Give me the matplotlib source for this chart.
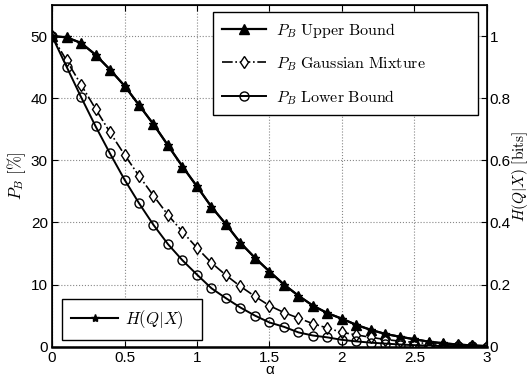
import numpy as np
import matplotlib
matplotlib.use("Agg")
import matplotlib.pyplot as plt

plt.rcParams['font.family'] = ['Liberation Sans', 'DejaVu Sans']
plt.rcParams['mathtext.fontset'] = 'cm'

alpha = [0.0, 0.1, 0.2, 0.3, 0.4, 0.5, 0.6, 0.7, 0.8, 0.9, 1.0,
         1.1, 1.2, 1.3, 1.4, 1.5, 1.6, 1.7, 1.8, 1.9, 2.0,
         2.1, 2.2, 2.3, 2.4, 2.5, 2.6, 2.7, 2.8, 2.9, 3.0]

# P_B upper bound [%]
pb_upper = [50.0, 49.8, 48.9, 47.0, 44.6, 42.0, 38.9, 35.8, 32.4, 29.0, 25.8,
            22.5, 19.7, 16.7, 14.3, 12.1, 10.0, 8.2, 6.6, 5.4, 4.5,
            3.5, 2.7, 2.05, 1.6, 1.2, 0.8, 0.55, 0.35, 0.2, 0.1]
# P_B gaussian mixture [%]
pb_gm = [50.0, 46.1, 42.2, 38.3, 34.5, 30.9, 27.5, 24.3, 21.2, 18.5, 15.9,
         13.5, 11.5, 9.7, 8.1, 6.6, 5.5, 4.6, 3.7, 3.0, 2.3,
         1.9, 1.5, 1.15, 0.9, 0.7, 0.5, 0.35, 0.25, 0.15, 0.1]
# P_B lower bound [%]
pb_lower = [50.0, 45.1, 40.2, 35.5, 31.1, 26.9, 23.1, 19.6, 16.5, 13.9, 11.6,
            9.4, 7.8, 6.3, 5.0, 3.9, 3.2, 2.3, 1.8, 1.5, 1.1,
            0.85, 0.65, 0.5, 0.35, 0.25, 0.18, 0.12, 0.08, 0.05, 0.03]
# H(Q|X) [bits]
h_qx = [1.0, 0.996, 0.978, 0.94, 0.892, 0.84, 0.778, 0.716, 0.648, 0.58, 0.516,
        0.45, 0.394, 0.334, 0.286, 0.242, 0.2, 0.164, 0.132, 0.108, 0.09,
        0.07, 0.054, 0.041, 0.032, 0.024, 0.016, 0.011, 0.007, 0.004, 0.002]

fig = plt.figure(figsize=(5.29, 3.86), dpi=100)
ax = fig.add_axes([0.0983, 0.1018, 0.8223, 0.8852])
ax2 = ax.twinx()

# H(Q|X) on the right axis (sits under the upper bound curve)
lh, = ax2.plot(alpha, h_qx, '-', color='k', lw=1.5, marker='*', ms=6)

l1, = ax.plot(alpha, pb_upper, '-', color='k', lw=1.6, marker='^',
              ms=7.5, mfc='k', zorder=3)
l2, = ax.plot(alpha, pb_gm, '-.', color='k', lw=1.2, marker='d',
              ms=6.5, mfc='white', zorder=3)
l3, = ax.plot(alpha, pb_lower, '-', color='k', lw=1.4, marker='o',
              ms=6.5, mfc='none', zorder=3)

ax.set_xlim(0, 3)
ax.set_ylim(0, 55)
ax2.set_ylim(0, 1.1)
ax.set_xticks([0, 0.5, 1, 1.5, 2, 2.5, 3])
ax.set_xticklabels(['0', '0.5', '1', '1.5', '2', '2.5', '3'])
ax.set_yticks([0, 10, 20, 30, 40, 50])
ax2.set_yticks([0, 0.2, 0.4, 0.6, 0.8, 1])
ax2.set_yticklabels(['0', '0.2', '0.4', '0.6', '0.8', '1'])

ax.grid(True, linestyle=':', color='#888888', lw=0.8)
ax.tick_params(direction='in', top=True, labelsize=11, length=4, pad=3)
ax2.tick_params(direction='in', labelsize=11, length=4, pad=2)
for sp in ax.spines.values():
    sp.set_linewidth(1.2)
ax.spines['bottom'].set_linewidth(1.8)

ax.set_xlabel('α', fontsize=11, labelpad=-1)
ax.set_ylabel(r'$P_B\ [\%]$', fontsize=12, labelpad=2)
ax2.set_ylabel(r'$H(Q|X)\ [\mathrm{bits}]$', fontsize=11)
ax2.yaxis.set_label_coords(1.054, 0.5)

leg1 = ax2.legend([l1, l2, l3],
                  [r'$P_B\ \mathrm{Upper\ Bound}$',
                   r'$P_B\ \mathrm{Gaussian\ Mixture}$',
                   r'$P_B\ \mathrm{Lower\ Bound}$'],
                  loc='upper left', bbox_to_anchor=(0.370, 0.5, 0.609, 0.4795),
                  mode='expand', numpoints=1,
                  fontsize=11.5, handlelength=2.8, labelspacing=0.95,
                  handletextpad=0.6, borderpad=0.55,
                  fancybox=False, edgecolor='k', framealpha=1,
                  borderaxespad=0)
leg1.get_frame().set_linewidth(1.0)
ax2.add_artist(leg1)
leg2 = ax2.legend([lh], [r'$H(Q|X)$'], loc='lower left',
                  bbox_to_anchor=(0.023, 0.0196, 0.322, 0.2),
                  mode='expand', numpoints=1,
                  fontsize=12, handlelength=2.8, borderpad=0.55,
                  handletextpad=0.4,
                  fancybox=False, edgecolor='k', framealpha=1,
                  borderaxespad=0)
leg2.get_frame().set_linewidth(1.0)

fig.savefig('out.png', dpi=100)
